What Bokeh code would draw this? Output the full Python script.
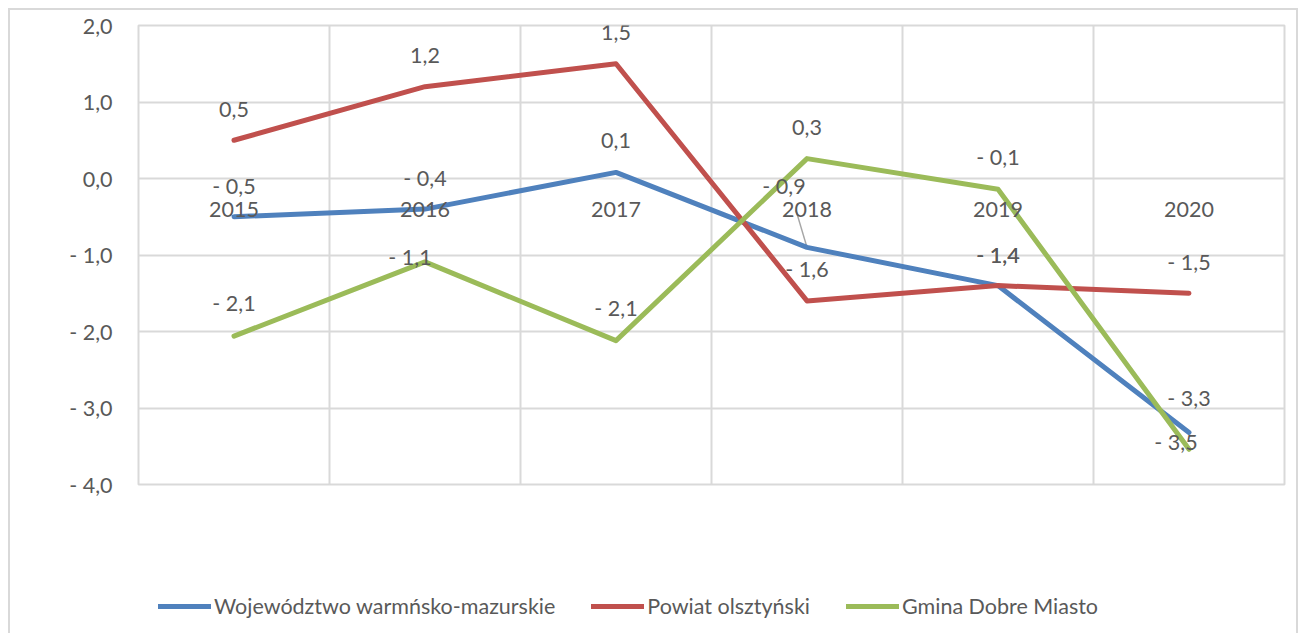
from bokeh.plotting import figure
from bokeh.layouts import column
from bokeh.models import (FixedTicker, LinearAxis, Legend, LegendItem,
                          ColumnDataSource, Range1d)
from bokeh.core.properties import value
from bokeh.embed import file_html
from bokeh.resources import INLINE

# ---------------- data ----------------
years = ["2015", "2016", "2017", "2018", "2019", "2020"]
wojewodztwo = [-0.5, -0.4, 0.08, -0.9, -1.4, -3.32]
powiat = [0.5, 1.2, 1.5, -1.6, -1.4, -1.5]
gmina = [-2.06, -1.09, -2.12, 0.26, -0.14, -3.54]
series_names = ["Województwo warmńsko-mazurskie", "Powiat olsztyński", "Gmina Dobre Miasto"]
y_ticks = [-4, -3, -2, -1, 0, 1, 2]

# ---------------- styles ----------------
colors = ["#4F81BD", "#C0504D", "#9BBB59"]
FONT = "Lato"
TXT = "#595959"
GRID = "#D9D9D9"
FS = "21.5px"

# label placement (screen px offsets from the point)
woj_dx = [0, 0, 0, -23, 0, 0]
woj_dy = [-31, -31, -32, -61, -31, -34]
pow_dx = [0, 0, 0, 0, 0, 0]
pow_dy = [-31, -31, -31, -32, -31, -31]
gm_dx = [0, -15, 0, 0, 0, -13]
gm_dy = [-33, -5, -33, -31, -32, -7]


def fmt(v):
    s = f"{abs(v):.1f}".replace(".", ",")
    return ("- " + s) if v < 0 else s


n = len(years)
xs = [i + 0.5 for i in range(n)]

W = 1286
p = figure(width=W, height=560, x_range=Range1d(0, n),
           y_range=Range1d(min(y_ticks), max(y_ticks)),
           output_backend="svg", toolbar_location=None,
           x_axis_location=None, y_axis_location=None,
           min_border_left=128, min_border_right=12,
           min_border_top=15, min_border_bottom=86)
p.outline_line_color = GRID
p.outline_line_width = 2
p.background_fill_color = "white"
p.border_fill_color = "white"

# y axis
yax = LinearAxis(ticker=FixedTicker(ticks=y_ticks),
                 major_label_overrides={t: fmt(t) for t in y_ticks})
yax.axis_line_color = None
yax.major_tick_line_color = None
yax.minor_tick_line_color = None
yax.major_label_standoff = 20
yax.major_label_text_font = FONT
yax.major_label_text_font_size = FS
yax.major_label_text_color = TXT
p.add_layout(yax, "left")

# x axis crossing at 0
xax = LinearAxis(ticker=FixedTicker(ticks=xs), fixed_location=0,
                 major_label_overrides={x: y for x, y in zip(xs, years)})
xax.axis_line_color = None
xax.major_tick_line_color = None
xax.minor_tick_line_color = None
xax.major_label_standoff = 17
xax.major_label_text_font = FONT
xax.major_label_text_font_size = FS
xax.major_label_text_color = TXT
p.add_layout(xax, "below")

p.ygrid.ticker = FixedTicker(ticks=y_ticks)
p.ygrid.grid_line_color = GRID
p.ygrid.grid_line_width = 2
p.xgrid.ticker = FixedTicker(ticks=list(range(n + 1)))
p.xgrid.grid_line_color = GRID
p.xgrid.grid_line_width = 2

# leader line for the shifted label
px_x = (W - 12 - 128) / n
px_y = (474 - 15) / (max(y_ticks) - min(y_ticks))
p.segment(x0=[xs[3] - 11 / px_x], y0=[wojewodztwo[3] + 37 / px_y],
          x1=[xs[3]], y1=[wojewodztwo[3]], line_color="#A6A6A6", line_width=1.5)

for vals, c in zip([wojewodztwo, powiat, gmina], colors):
    p.line(xs, vals, line_color=c, line_width=5, line_join="round", line_cap="round")

for vals, dx, dy in [(wojewodztwo, woj_dx, woj_dy), (powiat, pow_dx, pow_dy), (gmina, gm_dx, gm_dy)]:
    src = ColumnDataSource(dict(x=xs, y=vals, t=[fmt(v) for v in vals], dx=dx, dy=dy))
    p.text(x="x", y="y", text="t", x_offset="dx", y_offset="dy", source=src,
           text_align="center", text_baseline="middle",
           text_font=value(FONT), text_font_size=FS, text_color=TXT)

# ---------------- legend strip ----------------
pl = figure(width=W, height=63, x_range=Range1d(0, 1), y_range=Range1d(0, 1),
            output_backend="svg", toolbar_location=None,
            x_axis_location=None, y_axis_location=None, min_border=0)
pl.outline_line_color = None
pl.grid.visible = False
pl.border_fill_color = "white"
leg_r = [pl.line(x=xs[:1], y=vals[:1], line_color=c, line_width=5, line_cap="round")
         for vals, c in zip([wojewodztwo, powiat, gmina], colors)]
legend = Legend(items=[LegendItem(label=nm, renderers=[r]) for nm, r in zip(series_names, leg_r)],
                orientation="horizontal", location=(20, 14),
                glyph_width=53, glyph_height=20, label_standoff=3, spacing=36,
                padding=0, margin=0, border_line_color=None, background_fill_alpha=0,
                label_text_font=FONT, label_text_font_size=FS, label_text_color=TXT)
pl.add_layout(legend, "center")

layout = column(p, pl, spacing=0, margin=(8, 0, 0, 8),
                styles={"border-left": "2px solid #D9D9D9", "border-top": "2px solid #D9D9D9",
                        "border-right": "2px solid #D9D9D9", "background": "white"})

open("out.html", "w").write(file_html(layout, INLINE))
